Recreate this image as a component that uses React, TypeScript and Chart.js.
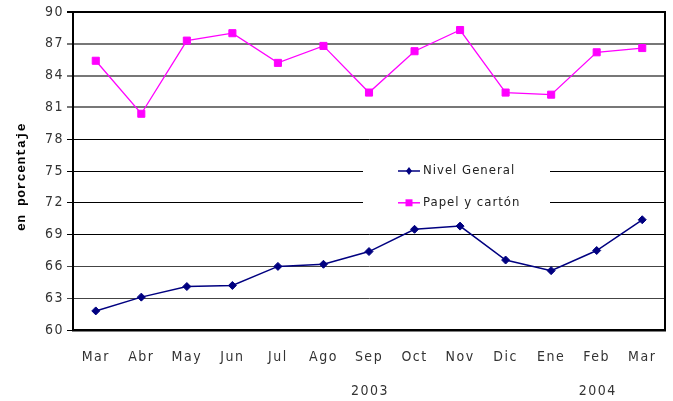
import React, { useEffect, useRef } from "react";
import { Chart, registerables } from "chart.js";

Chart.register(...registerables);

const months = ["Mar", "Abr", "May", "Jun", "Jul", "Ago", "Sep", "Oct", "Nov", "Dic", "Ene", "Feb", "Mar"];
const nivelGeneral = [61.8, 63.1, 64.1, 64.2, 66.0, 66.2, 67.4, 69.5, 69.8, 66.6, 65.6, 67.5, 70.4];
const papelCarton = [85.4, 80.4, 87.3, 88.0, 85.2, 86.8, 82.4, 86.3, 88.3, 82.4, 82.2, 86.2, 86.6];
const yearLabels = [
  { index: 6, text: "2003" },
  { index: 11, text: "2004" },
];
const seriesNames = ["Nivel General", "Papel y cartón"];
const yTitle = "en porcentaje";

const NAVY = "#000080";
const MAGENTA = "#ff00ff";
const TEXT_FONT = '"Liberation Sans Narrow", "DejaVu Sans Condensed", "Liberation Sans", sans-serif';
const SPACING = "1.5px";

const spacingPlugin = {
  id: "spacing",
  beforeLayout(chart: any) {
    (chart.ctx as any).letterSpacing = SPACING;
  },
  beforeDraw(chart: any) {
    (chart.ctx as any).letterSpacing = SPACING;
  },
};

const decorPlugin = {
  id: "decor",
  afterDatasetsDraw(chart: any) {
    const { ctx, chartArea, scales } = chart;
    const x = scales.x;
    const y = scales.y;
    ctx.save();
    ctx.strokeStyle = "#000";
    ctx.lineWidth = 2;
    ctx.beginPath();
    ctx.moveTo(chartArea.left, chartArea.top);
    ctx.lineTo(chartArea.right, chartArea.top);
    ctx.lineTo(chartArea.right, chartArea.bottom);
    ctx.stroke();

    const y1 = y.getPixelForValue(75);
    const y2 = y.getPixelForValue(72);
    ctx.fillStyle = "#fff";
    ctx.fillRect(363, y1 - 14, 187, y2 - y1 + 28);
    const entries = [
      { color: NAVY, style: "diamond", yy: y1, text: seriesNames[0] },
      { color: MAGENTA, style: "square", yy: y2, text: seriesNames[1] },
    ];
    for (const e of entries) {
      ctx.strokeStyle = e.color;
      ctx.lineWidth = 1.5;
      ctx.beginPath();
      ctx.moveTo(398, e.yy);
      ctx.lineTo(420, e.yy);
      ctx.stroke();
      ctx.fillStyle = e.color;
      ctx.beginPath();
      if (e.style === "diamond") {
        ctx.moveTo(409, e.yy - 4);
        ctx.lineTo(412, e.yy);
        ctx.lineTo(409, e.yy + 4);
        ctx.lineTo(406, e.yy);
        ctx.closePath();
      } else {
        ctx.rect(405.5, e.yy - 3.5, 7, 7);
      }
      ctx.fill();
      (ctx as any).letterSpacing = "1px";
      ctx.fillStyle = "#222";
      ctx.font = "13px " + TEXT_FONT;
      ctx.textAlign = "left";
      ctx.textBaseline = "middle";
      ctx.fillText(e.text, 423, e.yy);
    }

    (ctx as any).letterSpacing = SPACING;
    ctx.fillStyle = "#333";
    ctx.textAlign = "center";
    ctx.textBaseline = "middle";
    ctx.font = "14px " + TEXT_FONT;
    for (const yl of yearLabels) {
      ctx.fillText(yl.text, x.getPixelForValue(yl.index) + 1, 391);
    }

    ctx.save();
    ctx.translate(22, (chartArea.top + chartArea.bottom) / 2 + 6);
    ctx.rotate(-Math.PI / 2);
    (ctx as any).letterSpacing = "0.5px";
    ctx.font = 'bold 13px "Liberation Mono", "DejaVu Sans Mono", monospace';
    ctx.fillStyle = "#000";
    ctx.textAlign = "center";
    ctx.textBaseline = "middle";
    ctx.fillText(yTitle, 0, 0);
    ctx.restore();
    ctx.restore();
  },
};

export default function App() {
  const ref = useRef<HTMLCanvasElement>(null);
  useEffect(() => {
    document.body.style.margin = "0";
    const chart = new Chart(ref.current!, {
      type: "line",
      data: {
        labels: months,
        datasets: [
          {
            label: seriesNames[0],
            data: nivelGeneral,
            borderColor: NAVY,
            backgroundColor: NAVY,
            borderWidth: 1.5,
            pointStyle: "rectRot",
            pointRadius: 4,
            pointBorderWidth: 1,
            tension: 0,
          },
          {
            label: seriesNames[1],
            data: papelCarton,
            borderColor: MAGENTA,
            backgroundColor: MAGENTA,
            borderWidth: 1.3,
            pointStyle: "rect",
            pointRadius: 5,
            pointBorderWidth: 1,
            tension: 0,
          },
        ],
      },
      options: {
        animation: false,
        responsive: false,
        devicePixelRatio: 1,
        layout: { padding: { top: 12, right: 8, left: 0, bottom: 0 } },
        plugins: { legend: { display: false }, tooltip: { enabled: false } },
        scales: {
          x: {
            offset: true,
            grid: { display: false, drawTicks: false },
            border: { color: "#000", width: 2.5 },
            ticks: {
              color: "#333",
              font: { family: TEXT_FONT, size: 14 },
              padding: 19,
              maxRotation: 0,
              autoSkip: false,
            },
            afterFit(scale: any) {
              scale.height = 71;
              scale.paddingLeft = 0;
              scale.paddingRight = 0;
            },
          },
          y: {
            min: 60,
            max: 90,
            ticks: {
              stepSize: 3,
              color: "#333",
              font: { family: TEXT_FONT, size: 14 },
              padding: 3,
            },
            grid: {
              tickLength: 6,
              color: (c: any) => {
                const v = c.tick ? c.tick.value : 0;
                if (v === 87 || v === 84 || v === 81) return "#777";
                if (v === 66 || v === 63) return "#444";
                return "#000";
              },
              lineWidth: (c: any) => {
                const v = c.tick ? c.tick.value : 0;
                if (v === 87 || v === 84 || v === 81) return 2;
                if (v === 90) return 2;
                return 1;
              },
            },
            border: { color: "#000", width: 2 },
            afterFit(scale: any) {
              scale.width = 73;
              scale.paddingTop = 0;
              scale.paddingBottom = 0;
            },
          },
        },
      },
      plugins: [spacingPlugin, decorPlugin],
    } as any);
    return () => chart.destroy();
  }, []);
  return <canvas ref={ref} width={673} height={401} style={{ display: "block" }} />;
}
